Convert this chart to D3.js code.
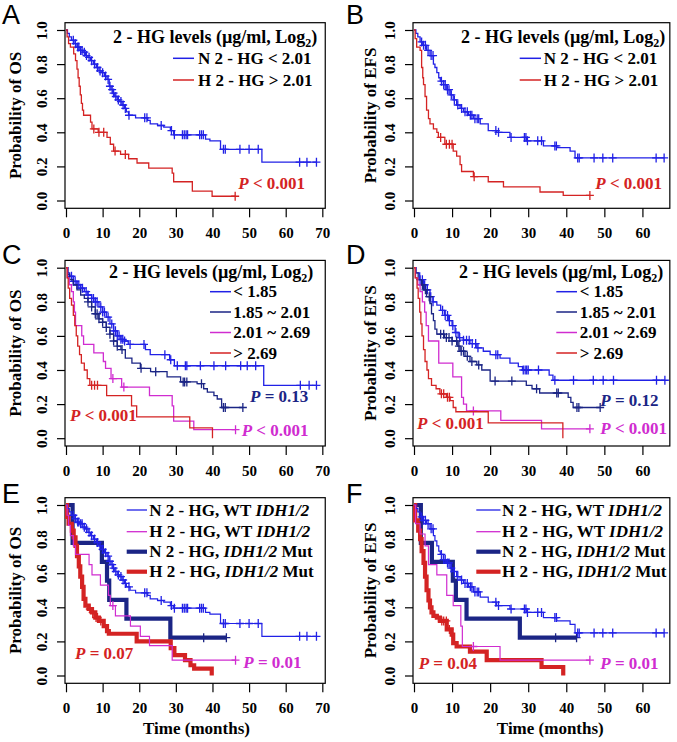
<!DOCTYPE html>
<html><head><meta charset="utf-8">
<script src="https://cdn.jsdelivr.net/npm/d3@7"></script>
<style>body{margin:0;background:#fff}svg{display:block}</style>
</head><body><svg id="c" width="677" height="742"></svg>
<script>
// ---------------- DATA (time in months, survival probability) ----------------
const xTicksOS = [0, 10, 20, 30, 40, 50, 60, 70];
const xTicksEFS = [0, 10, 20, 30, 40, 50, 60];
const yTicks = [0, 0.2, 0.4, 0.6, 0.8, 1.0];
const panelLetters = ["A", "B", "C", "D", "E", "F"];
const yTitles = ["Probability of OS", "Probability of EFS"];
const legendTwoGroups = ["N 2 - HG < 2.01", "H 2 - HG > 2.01"];
const legendFourGroups = ["< 1.85", "1.85 ~ 2.01", "2.01 ~ 2.69", "> 2.69"];
const legendIDH = [["N 2 - HG, WT ", "IDH1/2", ""], ["H 2 - HG, WT ", "IDH1/2", ""],
                   ["N 2 - HG, ", "IDH1/2", " Mut"], ["H 2 - HG, ", "IDH1/2", " Mut"]];

// Panel A (OS)
const A_N_steps = [[0.4,0.98],[0.9,0.96],[1.5,0.94],[2.2,0.92],[3,0.90],[3.8,0.88],[4.6,0.87],[5.3,0.85],[6,0.84],[6.7,0.82],[7.5,0.80],[8.3,0.78],[9,0.76],[9.8,0.75],[10.5,0.73],[11.2,0.71],[11.8,0.67],[12.3,0.65],[12.8,0.63],[13.3,0.61],[14,0.59],[14.7,0.58],[15.3,0.56],[16,0.54],[16.5,0.52],[17.1,0.50],[19,0.485],[22.3,0.47],[23,0.45],[25,0.44],[26.7,0.43],[28.5,0.41],[29.4,0.385],[38.1,0.36],[39.3,0.35],[42.2,0.30],[53.5,0.225]];
const A_N_cens = [2,2.6,3.2,3.5,4,4.4,5,5.6,6.3,7,7.8,8.6,9.3,10,10.8,11.5,12,12.6,13,13.6,14.3,15,15.6,16.2,17.2,21.5,22.1,26,28.8,29.6,31.8,32.3,32.8,33.2,36.5,37,37.5,43,43.5,47.5,50,52.5,63.8,65.8,68.4];
const A_H_steps = [[0.3,0.96],[0.7,0.92],[1.2,0.90],[2.1,0.86],[2.6,0.82],[3.0,0.77],[3.3,0.72],[3.6,0.67],[3.9,0.62],[4.2,0.57],[4.5,0.53],[4.8,0.50],[6.7,0.46],[7.1,0.42],[8.8,0.40],[11.2,0.37],[12.1,0.33],[13.0,0.29],[14.9,0.27],[17.1,0.245],[19.4,0.22],[22.6,0.19],[29.0,0.16],[29.4,0.11],[34.5,0.055],[39.9,0.025]];
const A_H_cens = [7.6,9.0,10.3,13.4,16.2,46.2];

// Panel B (EFS)
const B_N_steps = [[0.5,0.98],[1.0,0.96],[1.6,0.93],[2.3,0.91],[3.3,0.88],[4.2,0.85],[5.1,0.80],[5.5,0.78],[6,0.75],[6.5,0.72],[6.9,0.70],[7.7,0.68],[8.6,0.65],[9.5,0.62],[10.3,0.59],[11.2,0.56],[12.1,0.54],[13,0.52],[14.3,0.50],[15.6,0.48],[17.4,0.45],[19.5,0.41],[21.7,0.40],[25.2,0.37],[29.6,0.35],[34,0.32],[37.5,0.31],[41,0.29],[42.3,0.25]];
const B_N_cens = [2.0,2.5,3.0,3.7,4.5,5.0,7.2,7.8,8.2,8.8,9.2,9.8,10.6,11.5,12.5,13.4,14.0,14.8,15.2,16.0,16.6,17.0,21.5,22.2,25.5,29.0,29.4,29.8,32.5,33.5,37,37.4,43,43.4,47.3,49.6,52.2,63.6,65.7];
const B_H_steps = [[0.3,0.95],[0.7,0.90],[1.6,0.88],[2.0,0.78],[2.3,0.72],[2.5,0.68],[2.9,0.61],[3.3,0.53],[3.8,0.48],[4.2,0.45],[5.1,0.42],[6.0,0.40],[6.4,0.37],[8.1,0.33],[10.3,0.29],[11.2,0.26],[12.1,0.21],[12.5,0.17],[15.6,0.14],[19.5,0.11],[23.5,0.08],[33.1,0.05],[39.2,0.03]];
const B_H_cens = [7.0,8.5,9.3,10.0,15.8,46.2];

// Panel C (OS, four groups)
const C_g1_steps = [[0.5,0.97],[1,0.95],[2,0.92],[3,0.90],[4,0.88],[5,0.86],[6,0.84],[7,0.82],[8,0.80],[9,0.77],[10,0.74],[11,0.71],[12,0.67],[13,0.63],[14,0.60],[15,0.58],[16,0.57],[17,0.55],[21.7,0.52],[23,0.49],[28.3,0.46],[29.6,0.425],[54,0.31]];
const C_g1_cens = [1.5,2,2.5,3,3.5,4,4.5,5.5,6,7,7.5,8,8.5,9.5,10,10.5,11.5,12.5,13,13.5,14,14.5,15,15.5,16,17.5,21.3,27,28.6,30.4,32.6,33,36.7,40.4,43.6,47.7,49.5,51.8,64,66.4,68.4];
const C_g2_steps = [[0.5,0.96],[1,0.93],[2,0.90],[3,0.87],[4,0.84],[5,0.82],[6,0.80],[7,0.77],[8,0.73],[9,0.70],[10,0.68],[11,0.65],[12,0.61],[13,0.57],[14,0.54],[15,0.52],[16.2,0.47],[18,0.44],[20.3,0.41],[23.1,0.39],[27.6,0.36],[31.3,0.33],[35.8,0.32],[37.6,0.29],[38.6,0.27],[40.4,0.25],[41.3,0.23],[42.5,0.18]];
const C_g2_cens = [6,7,8,8.5,9,10,11,12,13,14,15.3,20.5,24.5,32,32.4,33,37,43,43.5,48.3];
const C_g3_steps = [[0.4,0.94],[0.9,0.90],[1.5,0.86],[2.0,0.80],[2.3,0.74],[2.6,0.66],[4.3,0.60],[4.8,0.55],[7.6,0.50],[10.2,0.45],[10.8,0.41],[12.3,0.35],[15.2,0.30],[22.8,0.25],[29.0,0.19],[29.4,0.10],[34.9,0.05]];
const C_g3_cens = [12.8,15.8,46.3];
const C_g4_steps = [[0.3,0.94],[0.6,0.88],[1.0,0.82],[1.5,0.78],[2.0,0.72],[2.4,0.66],[2.8,0.60],[3.2,0.54],[3.7,0.49],[4.2,0.44],[5.0,0.40],[5.8,0.35],[6.5,0.31],[11.1,0.25],[17.9,0.19],[19.3,0.125],[33.8,0.06],[40,0.0]];
const C_g4_cens = [7.0,7.8,8.6];

// Panel D (EFS, four groups)
const D_g1_steps = [[0.5,0.97],[1.5,0.93],[2.5,0.90],[3.5,0.87],[4.2,0.83],[5.0,0.80],[6,0.78],[7,0.75],[8,0.72],[9,0.69],[10,0.66],[10.8,0.62],[11.6,0.59],[13,0.575],[14.7,0.555],[16.5,0.53],[18.2,0.51],[20,0.49],[22.6,0.47],[25.2,0.44],[27.4,0.42],[28.5,0.40],[35.5,0.37],[36.5,0.34]];
const D_g1_cens = [1.6,2.2,2.8,3.5,4.4,5.0,7.5,8.2,8.8,9.3,10.2,11.0,12.0,13.0,13.8,14.5,15.3,16.2,16.8,21.5,22.0,28.7,29.2,29.6,30,32.7,37,41.9,47.1,49.7,52.4,63.7,65.9];
const D_g2_steps = [[0.5,0.97],[1.1,0.93],[2,0.90],[2.5,0.87],[3.3,0.83],[4.2,0.79],[4.6,0.73],[5.1,0.69],[5.5,0.64],[6.0,0.61],[8,0.59],[10,0.57],[11.5,0.54],[12.1,0.51],[13.4,0.48],[14.7,0.45],[16.5,0.43],[17.8,0.40],[20,0.335],[29.5,0.31],[31,0.29],[33,0.265],[40.5,0.24],[41.2,0.21],[41.8,0.18]];
const D_g2_cens = [2.2,3.0,4.0,7.0,7.8,8.5,9.2,10,11.2,11.8,12.4,13,14.0,15.2,17.0,21.3,25.7,32.2,37.5,37.9,42.8,43.3,48.9];
const D_g3_steps = [[0.4,0.94],[1,0.90],[1.6,0.86],[2.2,0.80],[2.8,0.74],[3.2,0.66],[3.8,0.57],[6.5,0.44],[10.2,0.36],[12.5,0.24],[13,0.20],[13.8,0.16],[22.8,0.105],[33.5,0.055]];
const D_g3_cens = [15.6,46.2];
const D_g4_steps = [[0.3,0.94],[0.8,0.88],[1.1,0.82],[1.5,0.74],[1.8,0.67],[2.1,0.60],[2.5,0.52],[2.9,0.45],[3.4,0.40],[3.8,0.35],[4.6,0.31],[5.8,0.29],[6.8,0.26],[8.5,0.24],[9.5,0.22],[10.3,0.18],[11.0,0.155],[19.5,0.09],[39.1,0.0]];
const D_g4_cens = [7.2,7.8,8.8,9.3];

// Panel E (OS, 2-HG x IDH1/2)
const E_NWT_steps = [[0.4,0.98],[0.9,0.96],[1.5,0.94],[2.2,0.92],[3,0.90],[3.8,0.89],[4.6,0.87],[5.3,0.86],[6,0.84],[6.7,0.82],[7.5,0.80],[8.3,0.78],[9,0.76],[9.8,0.74],[10.5,0.72],[11.2,0.70],[11.8,0.67],[12.3,0.65],[12.8,0.63],[13.3,0.61],[14,0.59],[14.7,0.58],[15.3,0.56],[16,0.54],[16.5,0.52],[17.5,0.50],[19,0.485],[22.3,0.47],[23,0.45],[25,0.44],[26.7,0.43],[28.5,0.41],[29.4,0.395],[38.1,0.37],[39.3,0.36],[42.2,0.305],[53.5,0.23]];
const E_NWT_cens = [2,2.6,3.2,3.5,4,4.4,5,5.6,6.3,7,7.8,8.6,9.3,10,10.8,11.5,12,12.6,13,13.6,14.3,15,15.6,16.2,17.2,21.5,22.1,26,28.8,29.6,31.8,32.3,32.8,33.2,36.5,37,37.5,43,43.5,47.5,50,52.5,63.8,65.8,68.4];
const E_HWT_steps = [[0.3,0.94],[0.7,0.88],[1.2,0.82],[2.0,0.76],[2.6,0.71],[6.3,0.65],[7.1,0.59],[9.4,0.53],[11.6,0.47],[12.1,0.41],[13.5,0.35],[17.6,0.29],[20.3,0.23],[22.8,0.175],[29,0.09]];
const E_HWT_cens = [12.8,46.3];
const E_NMut_steps = [[1.8,0.778],[9.8,0.667],[11.2,0.556],[11.8,0.444],[16.5,0.333],[28.5,0.222]];
const E_NMut_cens = [37.6,43.8];
const E_HMut_steps = [[0.3,0.93],[0.7,0.89],[1.6,0.85],[2.1,0.81],[2.6,0.76],[3.0,0.70],[3.5,0.64],[3.9,0.58],[4.4,0.52],[4.8,0.45],[5.3,0.41],[6.2,0.39],[7.1,0.37],[8.0,0.34],[9.0,0.32],[10.3,0.29],[11.2,0.26],[11.7,0.245],[19.3,0.20],[28.6,0.16],[29.6,0.12],[32.5,0.09],[34,0.06],[35,0.04],[39.8,0.0]];
const E_HMut_cens = [6.5,7.3,8.2,8.6,9.5];

// Panel F (EFS, 2-HG x IDH1/2)
const F_NWT_steps = [[0.5,0.98],[1.0,0.96],[1.6,0.93],[2.3,0.91],[3.3,0.89],[4.2,0.86],[5.1,0.82],[5.5,0.79],[6,0.76],[6.5,0.73],[6.9,0.71],[7.7,0.68],[8.6,0.66],[9.5,0.63],[10.3,0.61],[11.2,0.58],[12.1,0.56],[13,0.54],[14.3,0.52],[15.6,0.49],[17.4,0.46],[19.5,0.43],[21.7,0.41],[25.2,0.39],[29.6,0.37],[34,0.34],[37.5,0.32],[41,0.30],[42.3,0.25]];
const F_NWT_cens = [2.0,2.5,3.0,3.7,4.5,5.0,7.2,7.8,8.2,8.8,9.2,9.8,10.6,11.5,12.5,13.4,14.0,14.8,15.2,16.0,16.6,17.0,21.5,22.2,25.5,29.0,29.4,29.8,32.5,33.5,37,37.4,43,43.4,47.3,49.6,52.2,63.6,65.7];
const F_HWT_steps = [[0.4,0.89],[1.6,0.83],[2.9,0.76],[3.8,0.65],[6.0,0.59],[8.6,0.47],[10.3,0.41],[12.3,0.29],[12.7,0.17],[22.6,0.09]];
const F_HWT_cens = [15.6,46.2];
const F_NMut_steps = [[1.8,0.778],[4.7,0.667],[10.2,0.556],[11,0.444],[13.8,0.333],[27.8,0.222]];
const F_NMut_cens = [37.2,42.7];
const F_HMut_steps = [[0.3,0.91],[1.1,0.85],[1.6,0.80],[2.0,0.73],[2.5,0.66],[2.9,0.58],[3.3,0.50],[3.8,0.44],[4.2,0.40],[4.6,0.37],[5.1,0.35],[6.0,0.34],[6.8,0.32],[8.6,0.27],[9.9,0.24],[10.3,0.19],[11.2,0.17],[14.7,0.14],[19.1,0.09],[33.5,0.05],[39.2,0.0]];
const F_HMut_cens = [7.3,7.8,8.5,9.3];

// P values
const pA = ["<", "0.001"], pB = ["<", "0.001"];
const pC = [["=", "0.13"], ["<", "0.001"], ["<", "0.001"]];
const pD = [["=", "0.12"], ["<", "0.001"], ["<", "0.001"]];
const pE = [["=", "0.07"], ["=", "0.01"]];
const pF = [["=", "0.04"], ["=", "0.01"]];

// ---------------- STYLE / LAYOUT ----------------
const BLUE = "#2121e6", NAVY = "#1b2585", MAG = "#d02cd0", RED = "#d42323";
const SERIF = "'Liberation Serif','Times New Roman',serif";
const SANS = "'Liberation Sans',Arial,sans-serif";
const COL = [
  {x0: 66, ppm: 3.6617, ticks: xTicksOS, boxRight: 70.8, yLab: 42, yTitle: 15, letterX: 2},
  {x0: 414, ppm: 3.807, ticks: xTicksEFS, boxRight: 67.2, yLab: 390, yTitle: 370, letterX: 346}
];
const ROW = [{y1: 30, letterY: 24}, {y1: 267.7, letterY: 264}, {y1: 505, letterY: 503}];
const YSPAN = 170.5;
const svg = d3.select("#c");

function stepValue(steps, t) {
  let s = 1;
  for (const [ti, si] of steps) if (ti <= t) s = si;
  return s;
}

function txt(g, x, y, size, fill) {
  return g.append("text").attr("x", x).attr("y", y + size * 0.34)
    .attr("font-family", SERIF).attr("font-weight", "bold").attr("font-size", size).attr("fill", fill || "#000");
}

function pLabel(g, x, y, op, val, color) {
  const t = txt(g, x, y, 17, color);
  t.append("tspan").attr("font-style", "italic").text("P");
  t.append("tspan").text(" " + op + " " + val);
}

function drawPanel(p) {
  const c = COL[p.col], r = ROW[p.row];
  const xMax = c.ticks[c.ticks.length - 1];
  const x = d3.scaleLinear().domain([0, xMax]).range([c.x0, c.x0 + xMax * c.ppm]);
  const y = d3.scaleLinear().domain([0, 1]).range([r.y1 + YSPAN, r.y1]);
  const g = svg.append("g");
  const bl = x(0) - 1, br = x(c.boxRight), bt = y(1) - 7.3, bb = y(0) + 7.8;

  // panel letter
  g.append("text").attr("x", c.letterX).attr("y", r.letterY).attr("font-family", SANS)
    .attr("font-size", 27).text(p.letter);

  // box
  g.append("rect").attr("x", bl).attr("y", bt).attr("width", br - bl).attr("height", bb - bt)
    .attr("fill", "none").attr("stroke", "#000").attr("stroke-width", 1.2);

  // x axis
  const xa = g.append("g").attr("transform", `translate(0,${bb})`)
    .call(d3.axisBottom(x).tickValues(c.ticks).tickSize(9).tickPadding(10).tickFormat(d3.format("d")));
  xa.select(".domain").remove();
  xa.selectAll("line").attr("stroke-width", 1.2);
  xa.selectAll("text").attr("font-family", SERIF).attr("font-weight", "bold").attr("font-size", 15);

  // y axis
  const ya = g.append("g").attr("transform", `translate(${bl},0)`)
    .call(d3.axisLeft(y).tickValues(yTicks).tickSize(8).tickFormat(d3.format(".1f")));
  ya.select(".domain").remove();
  ya.selectAll("line").attr("stroke-width", 1.2);
  ya.selectAll("text").attr("font-family", SERIF).attr("font-weight", "bold").attr("font-size", 15)
    .attr("x", 0).attr("dy", "0.35em").attr("text-anchor", "middle")
    .attr("transform", `translate(${c.yLab - bl},0) rotate(-90)`);

  // y title
  g.append("text").attr("transform", `translate(${c.yTitle},${(bt + bb) / 2}) rotate(-90)`)
    .attr("dy", "0.35em").attr("text-anchor", "middle").attr("font-family", SERIF)
    .attr("font-weight", "bold").attr("font-size", 17).text(p.yTitle);

  if (p.xTitle) {
    g.append("text").attr("x", p.xTitleX).attr("y", bb + 51).attr("text-anchor", "middle")
      .attr("font-family", SERIF).attr("font-weight", "bold").attr("font-size", 17).text("Time (months)");
  }

  // curves
  const line = d3.line().x(d => x(d[0])).y(d => y(d[1])).curve(d3.curveStepAfter);
  p.curves.forEach(cv => {
    const last = cv.steps[cv.steps.length - 1];
    const end = Math.max(last[0], d3.max(cv.cens) || 0);
    const pts = [[0, 1], ...cv.steps, [end, last[1]]];
    g.append("path").datum(pts).attr("d", line).attr("fill", "none")
      .attr("stroke", cv.color).attr("stroke-width", cv.w).attr("stroke-linejoin", "miter");
    g.append("g").selectAll("path").data(cv.cens).join("path")
      .attr("d", t => {
        const px = x(t), py = y(stepValue(cv.steps, t));
        return `M${px - 4},${py}H${px + 4}M${px},${py - 4.5}V${py + 4.5}`;
      })
      .attr("stroke", cv.color).attr("stroke-width", 1.3).attr("fill", "none");
  });

  p.annot(g);
}

function legendTitle(g, x, y) {
  const t = txt(g, x, y, 18);
  t.append("tspan").text("2 - HG levels (\u00b5g/ml, Log");
  t.append("tspan").attr("font-size", 12).attr("dy", 4).text("2");
  t.append("tspan").attr("dy", -4).text(")");
}
function legendItem(g, x1, x2, tx, y, color, w, label) {
  g.append("line").attr("x1", x1).attr("x2", x2).attr("y1", y).attr("y2", y)
    .attr("stroke", color).attr("stroke-width", w);
  const t = txt(g, tx, y, 17);
  if (Array.isArray(label)) {
    t.append("tspan").text(label[0]);
    t.append("tspan").attr("font-style", "italic").text(label[1]);
    t.append("tspan").text(label[2]);
  } else t.text(label);
}

const panels = [
  {letter: panelLetters[0], col: 0, row: 0, yTitle: yTitles[0],
   curves: [{steps: A_N_steps, cens: A_N_cens, color: BLUE, w: 1.3},
            {steps: A_H_steps, cens: A_H_cens, color: RED, w: 1.3}],
   annot: g => {
     legendTitle(g, 113, 36.7);
     legendItem(g, 173, 194, 198, 58.3, BLUE, 1.5, legendTwoGroups[0]);
     legendItem(g, 173, 194, 198, 80, RED, 1.5, legendTwoGroups[1]);
     pLabel(g, 238.3, 183.3, pA[0], pA[1], RED);
   }},
  {letter: panelLetters[1], col: 1, row: 0, yTitle: yTitles[1],
   curves: [{steps: B_N_steps, cens: B_N_cens, color: BLUE, w: 1.3},
            {steps: B_H_steps, cens: B_H_cens, color: RED, w: 1.3}],
   annot: g => {
     legendTitle(g, 461, 36.7);
     legendItem(g, 519.7, 541, 543.7, 58.3, BLUE, 1.5, legendTwoGroups[0]);
     legendItem(g, 519.7, 541, 543.7, 80, RED, 1.5, legendTwoGroups[1]);
     pLabel(g, 595.3, 183.3, pB[0], pB[1], RED);
   }},
  {letter: panelLetters[2], col: 0, row: 1, yTitle: yTitles[0],
   curves: [{steps: C_g1_steps, cens: C_g1_cens, color: BLUE, w: 1.3},
            {steps: C_g2_steps, cens: C_g2_cens, color: NAVY, w: 1.3},
            {steps: C_g3_steps, cens: C_g3_cens, color: MAG, w: 1.3},
            {steps: C_g4_steps, cens: C_g4_cens, color: RED, w: 1.3}],
   annot: g => {
     legendTitle(g, 109, 271.7);
     const ys = [291.7, 312, 332.5, 353], cs = [BLUE, NAVY, MAG, RED];
     legendFourGroups.forEach((l, i) => legendItem(g, 210, 231, 233.3, ys[i], cs[i], 1.5, l));
     pLabel(g, 250, 396.7, pC[0][0], pC[0][1], NAVY);
     pLabel(g, 70, 415, pC[1][0], pC[1][1], RED);
     pLabel(g, 241.7, 430, pC[2][0], pC[2][1], MAG);
   }},
  {letter: panelLetters[3], col: 1, row: 1, yTitle: yTitles[1],
   curves: [{steps: D_g1_steps, cens: D_g1_cens, color: BLUE, w: 1.3},
            {steps: D_g2_steps, cens: D_g2_cens, color: NAVY, w: 1.3},
            {steps: D_g3_steps, cens: D_g3_cens, color: MAG, w: 1.3},
            {steps: D_g4_steps, cens: D_g4_cens, color: RED, w: 1.3}],
   annot: g => {
     legendTitle(g, 459, 271.7);
     const ys = [291.7, 312, 332.5, 353], cs = [BLUE, NAVY, MAG, RED];
     legendFourGroups.forEach((l, i) => legendItem(g, 556.3, 577, 579.7, ys[i], cs[i], 1.5, l));
     pLabel(g, 600.3, 400, pD[0][0], pD[0][1], NAVY);
     pLabel(g, 417, 423.3, pD[1][0], pD[1][1], RED);
     pLabel(g, 600.3, 428.3, pD[2][0], pD[2][1], MAG);
   }},
  {letter: panelLetters[4], col: 0, row: 2, yTitle: yTitles[0], xTitle: true, xTitleX: 196.5,
   curves: [{steps: E_NMut_steps, cens: E_NMut_cens, color: NAVY, w: 4.2},
            {steps: E_HMut_steps, cens: E_HMut_cens, color: RED, w: 4.2},
            {steps: E_NWT_steps, cens: E_NWT_cens, color: BLUE, w: 1.2},
            {steps: E_HWT_steps, cens: E_HWT_cens, color: MAG, w: 1.2}],
   annot: g => {
     const ys = [510, 531.7, 551.7, 571.7], cs = [BLUE, MAG, NAVY, RED], ws = [1.3, 1.3, 4.2, 4.2];
     legendIDH.forEach((l, i) => legendItem(g, 126.7, 147, 149.3, ys[i], cs[i], ws[i], l));
     pLabel(g, 75, 653.3, pE[0][0], pE[0][1], RED);
     pLabel(g, 243.3, 662.7, pE[1][0], pE[1][1], MAG);
   }},
  {letter: panelLetters[5], col: 1, row: 2, yTitle: yTitles[1], xTitle: true, xTitleX: 550.3,
   curves: [{steps: F_NMut_steps, cens: F_NMut_cens, color: NAVY, w: 4.2},
            {steps: F_HMut_steps, cens: F_HMut_cens, color: RED, w: 4.2},
            {steps: F_NWT_steps, cens: F_NWT_cens, color: BLUE, w: 1.2},
            {steps: F_HWT_steps, cens: F_HWT_cens, color: MAG, w: 1.2}],
   annot: g => {
     const ys = [510, 531.7, 551.7, 571.7], cs = [BLUE, MAG, NAVY, RED], ws = [1.3, 1.3, 4.2, 4.2];
     legendIDH.forEach((l, i) => legendItem(g, 476.3, 500.5, 502, ys[i], cs[i], ws[i], l));
     pLabel(g, 418.7, 663.3, pF[0][0], pF[0][1], RED);
     pLabel(g, 600.3, 663.3, pF[1][0], pF[1][1], MAG);
   }}
];

panels.forEach(drawPanel);
</script>
</body></html>
